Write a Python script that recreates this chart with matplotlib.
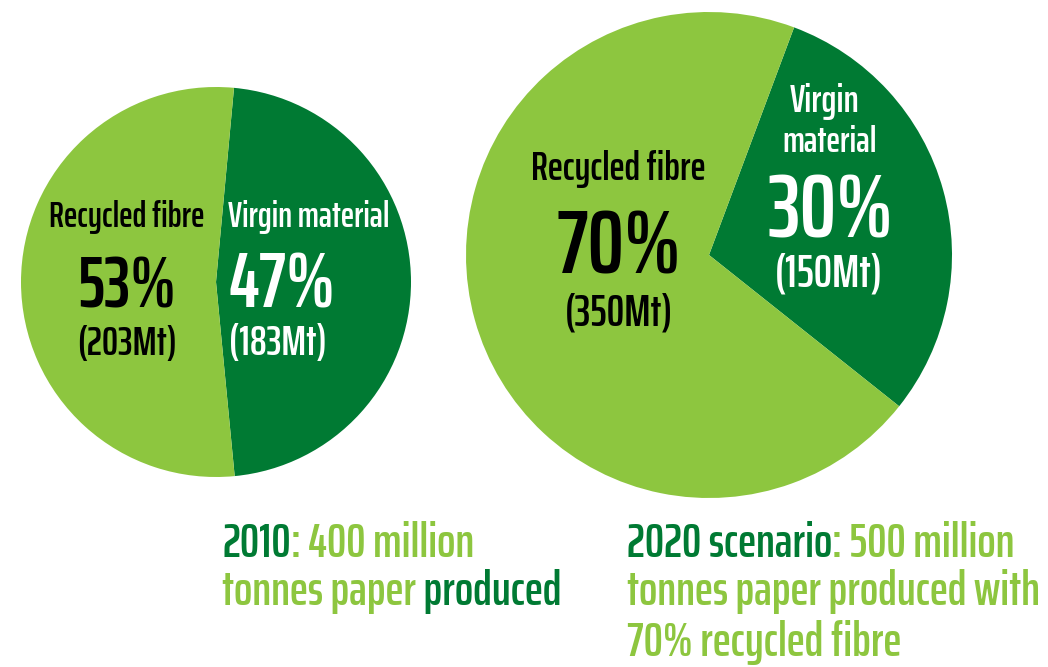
import matplotlib.pyplot as plt

# chart values
labels = ["Virgin material", "Recycled fibre"]
share_2010 = [47, 53]
tonnes_2010 = [183, 203]
share_2020 = [30, 70]
tonnes_2020 = [150, 350]

light = "#8DC63F"
dark = "#007A33"
font = ["Saira ExtraCondensed", "Barlow Condensed", "DejaVu Sans"]
weight = 600

fig = plt.figure(figsize=(10.48, 6.67), dpi=100)
ax = fig.add_axes([0, 0, 1, 1])

# pies (coords in pixels, y up)
ax.pie(share_2010, colors=[dark, light], startangle=-84.5, center=(216, 385),
       radius=195, frame=True, wedgeprops=dict(linewidth=0))
ax.pie(share_2020, colors=[dark, light], startangle=-38.5, center=(709, 412),
       radius=243, frame=True, wedgeprops=dict(linewidth=0))
ax.set_xlim(0, 1048)
ax.set_ylim(0, 667)
ax.set_aspect("equal")
ax.axis("off")

renderer = fig.canvas.get_renderer()


def fit(s, width):
    # font size that makes s about `width` pixels wide
    tmp = ax.text(0, 0, s, fontsize=10, family=font, fontweight=weight)
    w = tmp.get_window_extent(renderer).width
    tmp.remove()
    return 10 * width / w


def t(x, y, s, width, color, ha="center"):
    ax.text(x, y, s, fontsize=fit(s, width), color=color, ha=ha, va="baseline",
            family=font, fontweight=weight)


# 2010 pie labels
t(127, 440, labels[1], 157, "black")
t(127, 360, f"{share_2010[1]}%", 99, "black")
t(127, 312, f"({tonnes_2010[1]}Mt)", 99, "black")
t(228, 440, labels[0], 162, "white", ha="left")
t(229, 360, f"{share_2010[0]}%", 107, "white", ha="left")
t(229, 312, f"({tonnes_2010[0]}Mt)", 97, "white", ha="left")

# 2020 pie labels
t(618, 487, labels[1], 177, "black")
t(619, 394, f"{share_2020[1]}%", 125, "black")
t(619, 342, f"({tonnes_2020[1]}Mt)", 108, "black")
t(825, 555, "Virgin", 70, "white")
t(830, 515, "material", 95, "white")
t(830, 430, f"{share_2020[0]}%", 125, "white")
t(829, 381, f"({tonnes_2020[0]}Mt)", 108, "white")

cap_size = fit("tonnes paper produced", 343)


def line(x, y, parts):
    prev = None
    for s, c in parts:
        if prev is None:
            prev = ax.text(x, y, s, fontsize=cap_size, color=c, ha="left",
                           va="baseline", family=font, fontweight=weight)
        else:
            prev = ax.annotate(s, xy=(1, 0), xycoords=prev, fontsize=cap_size,
                               color=c, ha="left", va="bottom",
                               family=font, fontweight=weight)


# captions
line(222, 110, [("2010", dark), (": 400 million", light)])
line(222, 62, [("tonnes paper", light), (" produced", dark)])
line(627, 110, [("2020 scenario", dark), (": 500 million", light)])
line(627, 62, [("tonnes paper produced with", light)])
line(627, 11, [("70% recycled fibre", light)])

fig.savefig("out.png", dpi=100)
